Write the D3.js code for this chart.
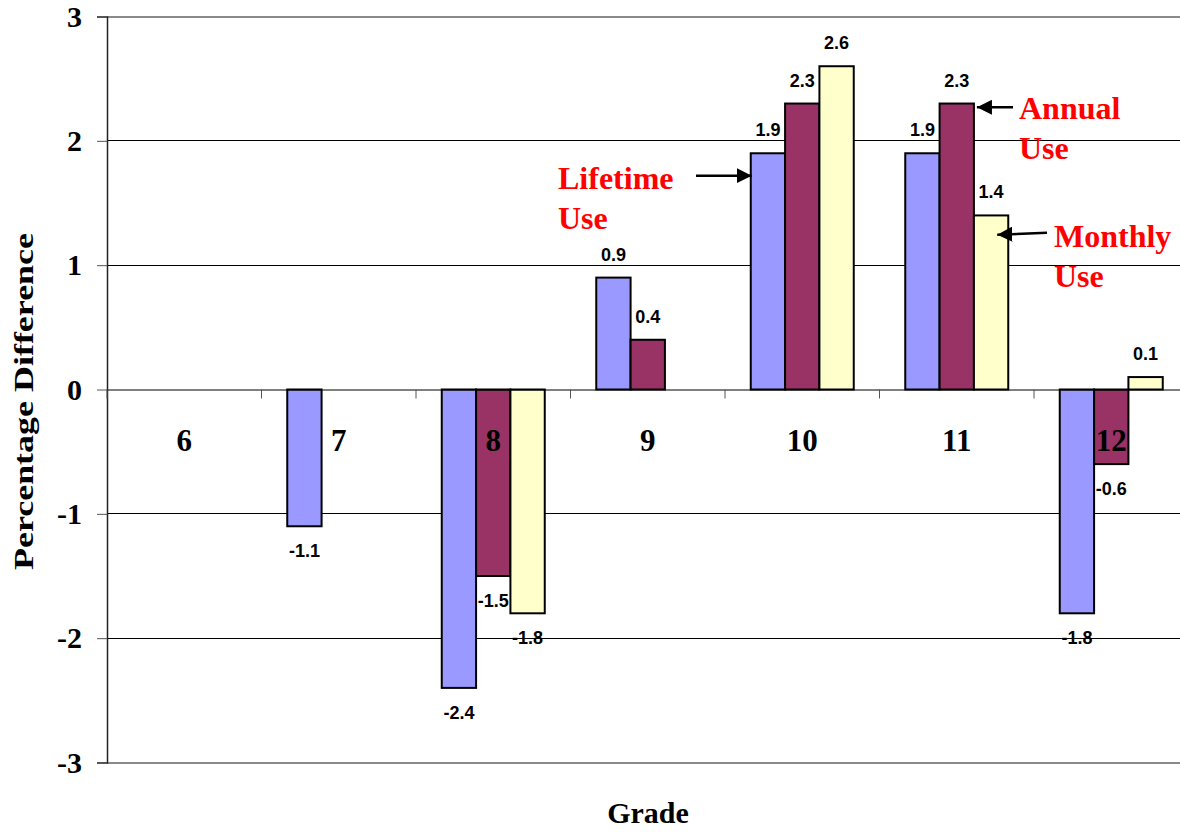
<!DOCTYPE html>
<html>
<head>
<meta charset="utf-8">
<script src="https://cdn.jsdelivr.net/npm/d3@7/dist/d3.min.js"></script>
<style>
  html, body { margin: 0; padding: 0; background: #fff; }
  svg { display: block; }
  .serif { font-family: "Liberation Serif", "Times New Roman", serif; font-weight: bold; }
  .sans { font-family: "Liberation Sans", Arial, sans-serif; font-weight: bold; }
</style>
</head>
<body>
<svg id="chart" width="1180" height="832"></svg>
<script>
// ---- data ----
const grades = ["6", "7", "8", "9", "10", "11", "12"];
const seriesNames = ["Lifetime Use", "Annual Use", "Monthly Use"];
const lifetimeUse = [null, -1.1, -2.4, 0.9, 1.9, 1.9, -1.8];
const annualUse   = [null, null, -1.5, 0.4, 2.3, 2.3, -0.6];
const monthlyUse  = [null, null, -1.8, null, 2.6, 1.4, 0.1];
const yTicks = [-3, -2, -1, 0, 1, 2, 3];
const yTitle = "Percentage Difference";
const xTitle = "Grade";

// ---- layout ----
const svg = d3.select("#chart");
const W = 1180, H = 832;
const plotLeft = 107, plotTop = 16.5, plotBottom = 762.5;
const step = 154.5;
const plotRight = plotLeft + step * grades.length;
const colors = ["#9999FF", "#993366", "#FFFFCC"];

svg.append("rect").attr("width", W).attr("height", H).attr("fill", "#fff");

const x = d3.scaleBand().domain(grades).range([plotLeft, plotRight]).paddingInner(0).paddingOuter(0);
const xs = d3.scaleBand().domain(seriesNames).range([0, x.bandwidth()]).paddingInner(0).paddingOuter(0.75);
const y = d3.scaleLinear().domain([-3, 3]).range([plotBottom, plotTop]);

// gridlines
svg.append("g").selectAll("line").data(yTicks.filter(t => t !== 0)).join("line")
  .attr("x1", plotLeft).attr("x2", W)
  .attr("y1", d => y(d)).attr("y2", d => y(d))
  .attr("stroke", d => (d === 3 || d === -3) ? "#8a8a8a" : "#000")
  .attr("stroke-width", d => (d === 3 || d === -3) ? 2 : 1)
  .attr("shape-rendering", "crispEdges");

// y axis
const yAxis = d3.axisLeft(y).tickValues(yTicks).tickSize(10).tickPadding(15)
  .tickFormat(d => String(d));
const gy = svg.append("g").attr("transform", `translate(${plotLeft},0)`).call(yAxis);
gy.attr("font-family", null).attr("font-size", null);
gy.select(".domain").attr("stroke", "#222").attr("stroke-width", 1.5);
gy.selectAll(".tick line").attr("stroke", "#555");
gy.selectAll(".tick text")
  .attr("class", "serif")
  .style("font-size", "30px")
  .attr("fill", "#000");

// bars
const seriesData = [lifetimeUse, annualUse, monthlyUse];
const bars = [];
grades.forEach((g, i) => {
  seriesNames.forEach((s, j) => {
    const v = seriesData[j][i];
    if (v !== null) bars.push({ grade: g, series: s, si: j, value: v });
  });
});

svg.append("g").selectAll("rect").data(bars).join("rect")
  .attr("x", d => x(d.grade) + xs(d.series))
  .attr("width", xs.bandwidth())
  .attr("y", d => y(Math.max(0, d.value)))
  .attr("height", d => Math.abs(y(d.value) - y(0)))
  .attr("fill", d => colors[d.si])
  .attr("stroke", "#000").attr("stroke-width", 2);

// category axis at zero
const xAxis = d3.axisBottom(x).tickSize(0).tickFormat("");
const gx = svg.append("g").attr("transform", `translate(0,${y(0)})`).call(xAxis);
gx.select(".domain").attr("stroke", "#000").attr("stroke-width", 1);
svg.append("g").selectAll("line").data(grades).join("line")
  .attr("x1", d => x(d)).attr("x2", d => x(d))
  .attr("y1", y(0)).attr("y2", y(0) + 9)
  .attr("stroke", "#555").attr("stroke-width", 1);

// data labels
svg.append("g").selectAll("text").data(bars).join("text")
  .attr("class", "sans")
  .attr("x", d => x(d.grade) + xs(d.series) + xs.bandwidth() / 2)
  .attr("y", d => d.value >= 0 ? y(d.value) - 17 : y(d.value) + 31)
  .attr("text-anchor", "middle")
  .style("font-size", "18px")
  .attr("fill", "#000")
  .text(d => d.value.toFixed(1));

// category labels
svg.append("g").selectAll("text").data(grades).join("text")
  .attr("class", "serif")
  .attr("x", d => x(d) + x.bandwidth() / 2)
  .attr("y", y(0) + 61)
  .attr("text-anchor", "middle")
  .style("font-size", "31px")
  .attr("fill", "#000")
  .text(d => d);

// axis titles
svg.append("text")
  .attr("class", "serif")
  .attr("transform", `translate(33,401.5) rotate(-90)`)
  .attr("text-anchor", "middle")
  .attr("textLength", 337).attr("lengthAdjust", "spacingAndGlyphs")
  .style("font-size", "27px")
  .text(yTitle);
svg.append("text")
  .attr("class", "serif")
  .attr("x", 648).attr("y", 823)
  .attr("text-anchor", "middle")
  .style("font-size", "30px")
  .text(xTitle);

// annotations (series call-outs)
const defs = svg.append("defs");
defs.append("marker").attr("id", "arrow")
  .attr("viewBox", "0 0 10 10").attr("refX", 10).attr("refY", 5)
  .attr("markerWidth", 6).attr("markerHeight", 6)
  .attr("markerUnits", "strokeWidth").attr("orient", "auto")
  .append("path").attr("d", "M0,0 L10,5 L0,10 Z").attr("fill", "#000");

const barLeft = (g, s) => x(g) + xs(s);
const barRight = (g, s) => x(g) + xs(s) + xs.bandwidth();
const annotations = [
  { lines: ["Lifetime", "Use"], tx: 558, ty: 189,
    x1: 696, y1: y(1.72), x2: barLeft("10", "Lifetime Use") + 1, y2: y(1.72) },
  { lines: ["Annual", "Use"], tx: 1019, ty: 119,
    x1: 1013, y1: y(2.27), x2: barRight("11", "Annual Use") + 3, y2: y(2.27) },
  { lines: ["Monthly", "Use"], tx: 1054, ty: 247,
    x1: 1047, y1: y(1.26), x2: barRight("11", "Monthly Use") - 11, y2: y(1.245) }
];
const ann = svg.append("g");
annotations.forEach(a => {
  ann.append("line")
    .attr("x1", a.x1).attr("y1", a.y1).attr("x2", a.x2).attr("y2", a.y2)
    .attr("stroke", "#000").attr("stroke-width", 2.5)
    .attr("marker-end", "url(#arrow)");
  const t = ann.append("text")
    .attr("class", "serif")
    .style("font-size", "32px")
    .attr("fill", "#FF0000");
  a.lines.forEach((l, k) => {
    t.append("tspan").attr("x", a.tx).attr("y", a.ty + k * 40).text(l);
  });
});
</script>
</body>
</html>
